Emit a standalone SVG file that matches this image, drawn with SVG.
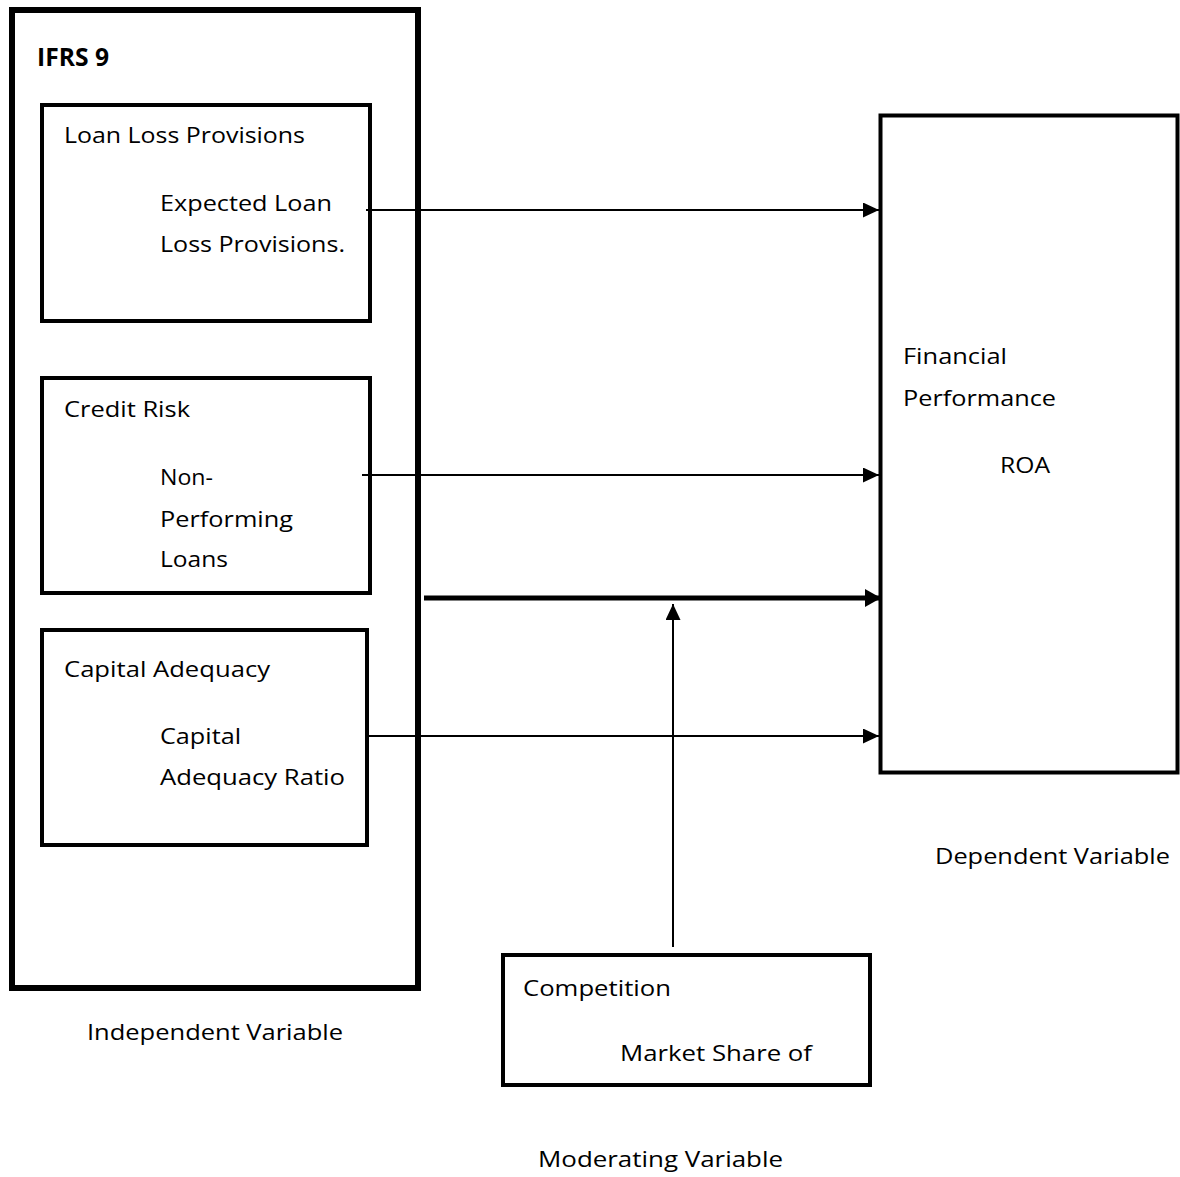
<svg xmlns="http://www.w3.org/2000/svg" width="1180" height="1177" viewBox="0 0 1180 1177">
<style>
.box{fill:none;stroke:#000;stroke-width:4}
.outer{fill:none;stroke:#000;stroke-width:6}
.t{font-family:"Open Sans","Noto Sans","Liberation Sans",sans-serif;font-size:22px;fill:#000}
.b{font-family:"Open Sans","Noto Sans","Liberation Sans",sans-serif;font-size:25px;font-weight:bold;fill:#000}
.ln{stroke:#000;stroke-width:2;fill:none}
.thick{stroke:#000;stroke-width:5;fill:none}
</style>
<defs>
<marker id="ah" markerUnits="userSpaceOnUse" markerWidth="16" markerHeight="15" refX="16" refY="7.5" orient="auto">
<path d="M0,0 L16,7.5 L0,15 Z" fill="#000"/>
</marker>
<marker id="ahT" markerUnits="userSpaceOnUse" markerWidth="16" markerHeight="18" refX="16" refY="9" orient="auto">
<path d="M0,0 L16,9 L0,18 Z" fill="#000"/>
</marker>
</defs>
<rect width="1180" height="1177" fill="#fff"/>

<g id="independent">
<rect class="outer" x="12" y="10" width="406" height="978"/>
<text class="b" x="37" y="66" textLength="72" lengthAdjust="spacingAndGlyphs">IFRS 9</text>
<text class="t" x="87" y="1040" textLength="256" lengthAdjust="spacingAndGlyphs">Independent Variable</text>
</g>

<g id="llp">
<rect class="box" x="42" y="105" width="328" height="216"/>
<text class="t" x="64" y="143" textLength="241" lengthAdjust="spacingAndGlyphs">Loan Loss Provisions</text>
<text class="t" x="160" y="211" textLength="172" lengthAdjust="spacingAndGlyphs">Expected Loan</text>
<text class="t" x="160" y="252" textLength="185" lengthAdjust="spacingAndGlyphs">Loss Provisions.</text>
</g>

<g id="credit">
<rect class="box" x="42" y="378" width="328" height="215"/>
<text class="t" x="64" y="417" textLength="126" lengthAdjust="spacingAndGlyphs">Credit Risk</text>
<text class="t" x="160" y="485" textLength="53" lengthAdjust="spacingAndGlyphs">Non-</text>
<text class="t" x="160" y="527" textLength="133" lengthAdjust="spacingAndGlyphs">Performing</text>
<text class="t" x="160" y="567" textLength="68" lengthAdjust="spacingAndGlyphs">Loans</text>
</g>

<g id="capital">
<rect class="box" x="42" y="630" width="325" height="215"/>
<text class="t" x="64" y="677" textLength="206" lengthAdjust="spacingAndGlyphs">Capital Adequacy</text>
<text class="t" x="160" y="744" textLength="81" lengthAdjust="spacingAndGlyphs">Capital</text>
<text class="t" x="160" y="785" textLength="185" lengthAdjust="spacingAndGlyphs">Adequacy Ratio</text>
</g>

<g id="performance">
<rect class="box" x="880.5" y="115.5" width="297" height="657"/>
<text class="t" x="903" y="364" textLength="104" lengthAdjust="spacingAndGlyphs">Financial</text>
<text class="t" x="903" y="406" textLength="153" lengthAdjust="spacingAndGlyphs">Performance</text>
<text class="t" x="1000" y="473" textLength="50" lengthAdjust="spacingAndGlyphs">ROA</text>
<text class="t" x="935" y="864" textLength="235" lengthAdjust="spacingAndGlyphs">Dependent Variable</text>
</g>

<g id="competition">
<rect class="box" x="503" y="955" width="367" height="130"/>
<text class="t" x="523" y="996" textLength="148" lengthAdjust="spacingAndGlyphs">Competition</text>
<text class="t" x="620" y="1061" textLength="192" lengthAdjust="spacingAndGlyphs">Market Share of</text>
<text class="t" x="538" y="1167" textLength="245" lengthAdjust="spacingAndGlyphs">Moderating Variable</text>
</g>

<g id="connectors">
<line class="ln" x1="366" y1="210" x2="879" y2="210" marker-end="url(#ah)"/>
<line class="ln" x1="362" y1="475" x2="879" y2="475" marker-end="url(#ah)"/>
<line class="thick" x1="424" y1="598" x2="881" y2="598" marker-end="url(#ahT)"/>
<line class="ln" x1="369" y1="736" x2="879" y2="736" marker-end="url(#ah)"/>
<line class="ln" x1="673" y1="947" x2="673" y2="604" marker-end="url(#ah)"/>
</g>
</svg>
